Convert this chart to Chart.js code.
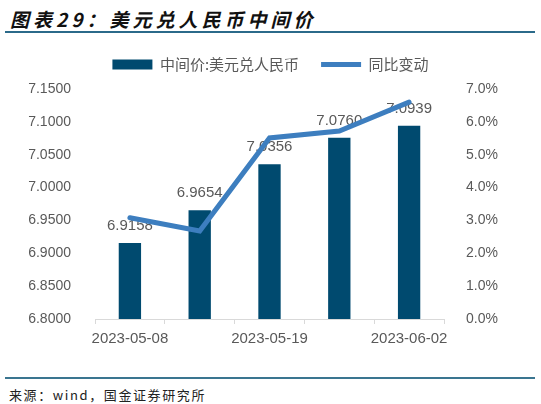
<!DOCTYPE html>
<html>
<head>
<meta charset="utf-8">
<script src="https://cdn.jsdelivr.net/npm/chart.js@4/dist/chart.umd.min.js"></script>
<style>
  html, body { margin: 0; padding: 0; background: #fff; }
  body { width: 541px; height: 404px; position: relative; overflow: hidden; font-family: "Liberation Sans", Arial, sans-serif; }
  #title { position: absolute; left: 10px; top: 5px; font: italic bold 19px "Noto Sans CJK SC", sans-serif; letter-spacing: 4px; color: #111; }
  #topline { position: absolute; left: 5px; top: 31px; width: 530px; height: 2px; background: #2b6a8a; }
  #chartbox { position: absolute; left: 0; top: 35px; width: 541px; height: 319px; }
  #botline { position: absolute; left: 5px; top: 377px; width: 530px; height: 2px; background: #3a7590; }
  #source { position: absolute; left: 9px; top: 385px; font: 13px "Noto Sans CJK SC", sans-serif; color: #222; letter-spacing: 1.6px; }
</style>
</head>
<body>
<div id="title">图表29：美元兑人民币中间价</div>
<div id="topline"></div>
<div id="chartbox"><canvas id="chart"></canvas></div>
<div id="botline"></div>
<div id="source">来源：wind，国金证券研究所</div>

<script>
// data
var dates = ["2023-05-08", "2023-05-12", "2023-05-19", "2023-05-26", "2023-06-02"];
var midRate = [6.9158, 6.9654, 7.0356, 7.0760, 7.0939];
var yoyChange = [3.08, 2.68, 5.51, 5.72, 6.60];   // %
var leftTicks = [6.80, 6.85, 6.90, 6.95, 7.00, 7.05, 7.10, 7.15];
var rightTicks = [0, 1, 2, 3, 4, 5, 6, 7];

var barColor = "#004a6f";
var lineColor = "#3d7ebf";
var textColor = "#595959";

// value labels above the bars (drawn before the line so the line sits on top)
var barLabels = {
    id: "barLabels",
    afterDatasetDraw: function (chart, args) {
        if (args.index !== 0) return;
        var ctx = chart.ctx;
        ctx.save();
        ctx.font = "15px 'Liberation Sans', Arial, sans-serif";
        ctx.fillStyle = textColor;
        ctx.textAlign = "center";
        ctx.textBaseline = "middle";
        args.meta.data.forEach(function (bar, i) {
            ctx.fillText(midRate[i].toFixed(4), bar.x, bar.y - 17);
        });
        ctx.restore();
    }
};

// a bit more room under the legend
var legendGap = {
    id: "legendGap",
    beforeInit: function (chart) {
        var fit = chart.legend.fit;
        chart.legend.fit = function () {
            fit.bind(chart.legend)();
            this.height += 7;
        };
    }
};

new Chart(document.getElementById("chart"), {
    type: "bar",
    data: {
        labels: dates,
        datasets: [
            {
                label: "中间价:美元兑人民币",
                data: midRate,
                backgroundColor: barColor,
                borderWidth: 0,
                yAxisID: "y",
                order: 2,
                pointStyle: "rect",
                categoryPercentage: 1,
                barPercentage: 0.32
            },
            {
                type: "line",
                label: "同比变动",
                data: yoyChange,
                borderColor: lineColor,
                backgroundColor: lineColor,
                borderWidth: 5,
                borderCapStyle: "round",
                pointRadius: 0,
                pointStyle: "line",
                tension: 0,
                yAxisID: "y1",
                order: 1
            }
        ]
    },
    options: {
        responsive: true,
        maintainAspectRatio: false,
        animation: false,
        layout: { padding: 0 },
        plugins: {
            legend: {
                display: true,
                position: "top",
                labels: {
                    usePointStyle: true,
                    pointStyleWidth: 40,
                    boxHeight: 10,
                    padding: 22,
                    color: textColor,
                    font: { size: 15, family: "'Noto Sans CJK SC', sans-serif" },
                    sort: function (a, b) { return a.datasetIndex - b.datasetIndex; }
                }
            },
            tooltip: { enabled: false }
        },
        scales: {
            x: {
                offset: true,
                grid: {
                    offset: true,
                    drawOnChartArea: false,
                    drawTicks: true,
                    tickLength: 5,
                    color: "#d9d9d9"
                },
                border: { display: true, color: "#d9d9d9", width: 1 },
                ticks: {
                    autoSkip: false,
                    maxRotation: 0,
                    color: textColor,
                    padding: 6,
                    font: { size: 15 },
                    callback: function (v, i) { return i % 2 === 0 ? dates[i] : ""; }
                }
            },
            y: {
                position: "left",
                min: leftTicks[0],
                max: leftTicks[leftTicks.length - 1],
                afterBuildTicks: function (s) { s.ticks = leftTicks.map(function (v) { return { value: v }; }); },
                afterFit: function (s) { s.width = 95; },
                grid: { display: false },
                border: { display: false },
                ticks: {
                    color: textColor,
                    padding: 16,
                    font: { size: 14 },
                    callback: function (v) { return Number(v).toFixed(4); }
                }
            },
            y1: {
                position: "right",
                min: rightTicks[0],
                max: rightTicks[rightTicks.length - 1],
                afterBuildTicks: function (s) { s.ticks = rightTicks.map(function (v) { return { value: v }; }); },
                afterFit: function (s) { s.width = 97; },
                grid: { display: false },
                border: { display: false },
                ticks: {
                    color: textColor,
                    padding: 14,
                    font: { size: 14 },
                    callback: function (v) { return Number(v).toFixed(1) + "%"; }
                }
            }
        }
    },
    plugins: [barLabels, legendGap]
});
</script>
</body>
</html>
